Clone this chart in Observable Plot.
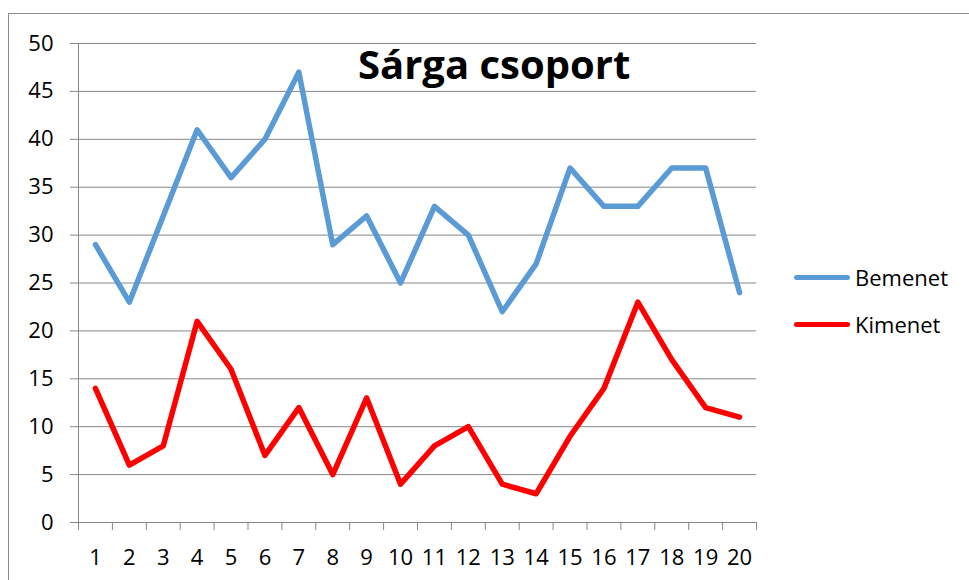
<!DOCTYPE html>
<html>
<head>
<meta charset="utf-8">
<script src="https://cdn.jsdelivr.net/npm/d3@7"></script>
<script src="https://cdn.jsdelivr.net/npm/@observablehq/plot@0.6"></script>
<style>
  html, body { margin: 0; padding: 0; background: #fff; overflow: hidden; width: 969px; height: 580px; }
  #wrap { position: relative; width: 969px; height: 580px; font-family: "Open Sans", sans-serif; }
  #border { position: absolute; left: 8px; top: 13px; width: 1000px; height: 600px; border: 1px solid #8c8c8c; box-sizing: border-box; }
  #chart { position: absolute; left: 0; top: 0; }
  #title { position: absolute; left: 358px; top: 44px; font-size: 40px; font-weight: 700; color: #000; white-space: nowrap; line-height: 1; font-family: "Open Sans", sans-serif; }
  .leg { position: absolute; display: flex; align-items: center; font-size: 22px; color: #000; white-space: nowrap; }
  .sw { width: 56px; height: 5px; border-radius: 3px; margin-right: 5px; }
</style>
</head>
<body>
<div id="wrap">
  <div id="border"></div>
  <div id="chart"></div>
  <div id="title">Sárga csoport</div>
  <div class="leg" style="left:794px; top:262px;"><div class="sw" style="background:#5B9BD5"></div><span>Bemenet</span></div>
  <div class="leg" style="left:794px; top:309px;"><div class="sw" style="background:#FF0000"></div><span>Kimenet</span></div>
</div>
<script>
const categories = [1,2,3,4,5,6,7,8,9,10,11,12,13,14,15,16,17,18,19,20];
const bemenet = [29,23,32,41,36,40,47,29,32,25,33,30,22,27,37,33,33,37,37,24];
const kimenet = [14,6,8,21,16,7,12,5,13,4,8,10,4,3,9,14,23,17,12,11];
const seriesNames = ["Bemenet", "Kimenet"];
const seriesColors = ["#5B9BD5", "#FF0000"];
const yTicks = [0,5,10,15,20,25,30,35,40,45,50];

const rows = [];
categories.forEach((c, i) => {
  rows.push({cat: c, value: bemenet[i], series: seriesNames[0]});
  rows.push({cat: c, value: kimenet[i], series: seriesNames[1]});
});
const boundaries = categories.map(c => c - 0.5).concat([categories[categories.length - 1] + 0.5]);

const chart = Plot.plot({
  width: 969,
  height: 580,
  marginLeft: 78,
  marginRight: 213,
  marginTop: 43,
  marginBottom: 58,
  style: {fontFamily: "'Open Sans', sans-serif", fontSize: "22px", background: "transparent", color: "#000"},
  x: {type: "linear", domain: [boundaries[0], boundaries[boundaries.length - 1]]},
  y: {domain: [0, 50]},
  color: {domain: seriesNames, range: seriesColors},
  marks: [
    Plot.gridY(yTicks, {stroke: "#868686", strokeOpacity: 1, strokeWidth: 1}),
    Plot.ruleX([boundaries[0]], {stroke: "#868686", strokeWidth: 1}),
    Plot.axisY(yTicks, {tickSize: 8, tickPadding: 17, stroke: "#868686", fill: "#000", fontSize: 22, label: null}),
    Plot.axisX(boundaries, {tickSize: 8, stroke: "#868686", text: null, label: null}),
    Plot.axisX(categories, {tickSize: 0, tickPadding: 27, fill: "#000", fontSize: 22, tickFormat: d => String(d), label: null}),
    Plot.line(rows, {x: "cat", y: "value", stroke: "series", z: "series", strokeWidth: 5.5, strokeLinejoin: "round", strokeLinecap: "round"})
  ]
});
document.getElementById("chart").appendChild(chart);
</script>
</body>
</html>
